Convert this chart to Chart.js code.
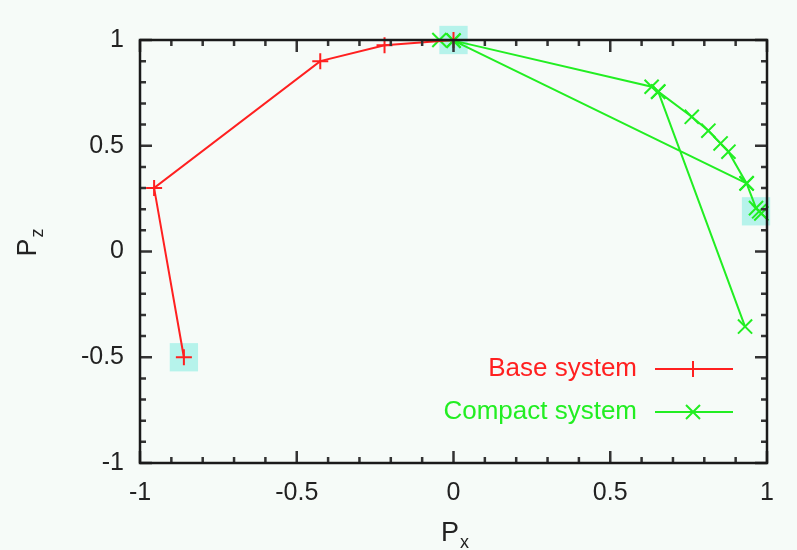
<!DOCTYPE html>
<html>
<head>
<meta charset="utf-8">
<script src="https://cdn.jsdelivr.net/npm/chart.js@4.4.1/dist/chart.umd.min.js"></script>
<style>
  html, body { margin: 0; padding: 0; background: #f6fbf8; }
  canvas { display: block; }
</style>
</head>
<body>
<canvas id="chart" width="797" height="550"></canvas>
<script>
// tick labels
const xTicks = [-1, -0.5, 0, 0.5, 1];
const zTicks = [-1, -0.5, 0, 0.5, 1];
const minorStep = 0.1;

const seriesNames = ['Base system', 'Compact system'];

// Base system (P_x, P_z)
const baseX = [-0.86, -0.955, -0.425, -0.22, 0.0];
const baseZ = [-0.5, 0.30, 0.90, 0.975, 1.0];

// Compact system, null breaks the line between pieces
const compactX = [-0.045, 0.0, 0.632, 0.653, 0.76, 0.813, 0.852, 0.877, 0.935, 0.965, 0.975, 0.982, null, 0.0, 0.935, null, 0.653, 0.93];
const compactZ = [1.0, 0.997, 0.779, 0.756, 0.637, 0.571, 0.511, 0.472, 0.322, 0.205, 0.19, 0.18, null, 0.997, 0.322, null, 0.756, -0.355];

// highlighted points (cyan boxes)
const markX = [-0.86, 0.0, 0.965];
const markZ = [-0.5, 1.0, 0.19];

const RED = '#ff2020';
const GREEN = '#22ee22';
const FONT = '"Liberation Sans", Arial, sans-serif';

function toPoints(xs, ys) {
  return xs.map((x, i) => ({ x: x, y: ys[i] }));
}

// background, frame with inward ticks, tick labels, axis titles, legend
const decorPlugin = {
  id: 'decor',
  beforeDraw(chart) {
    const ctx = chart.ctx;
    ctx.save();
    ctx.fillStyle = '#f6fbf8';
    ctx.fillRect(0, 0, chart.width, chart.height);
    ctx.restore();
  },
  afterDatasetsDraw(chart) {
    const ctx = chart.ctx;
    const a = chart.chartArea;
    const xs = chart.scales.x;
    const ys = chart.scales.y;
    ctx.save();

    // minor + major ticks on all sides
    ctx.strokeStyle = '#333';
    ctx.lineWidth = 2.5;
    ctx.beginPath();
    for (let v = -1; v <= 1.0001; v += minorStep) {
      const major = Math.abs(v * 2 - Math.round(v * 2)) < 1e-6;
      const len = major ? 12 : 6;
      const px = xs.getPixelForValue(v);
      const py = ys.getPixelForValue(v);
      ctx.moveTo(px, a.bottom); ctx.lineTo(px, a.bottom - len);
      ctx.moveTo(px, a.top); ctx.lineTo(px, a.top + len);
      ctx.moveTo(a.left, py); ctx.lineTo(a.left + len, py);
      ctx.moveTo(a.right, py); ctx.lineTo(a.right - len, py);
    }
    ctx.stroke();

    // frame
    ctx.strokeStyle = '#1a1a1a';
    ctx.lineWidth = 2.5;
    ctx.strokeRect(a.left, a.top, a.right - a.left, a.bottom - a.top);

    // tick labels
    ctx.fillStyle = '#222';
    ctx.font = '25px ' + FONT;
    ctx.textBaseline = 'middle';
    ctx.textAlign = 'center';
    xTicks.forEach(v => ctx.fillText(String(v), xs.getPixelForValue(v), a.bottom + 30));
    ctx.textAlign = 'right';
    zTicks.forEach(v => ctx.fillText(String(v), a.left - 16, ys.getPixelForValue(v)));

    // axis titles with subscripts
    function subLabel(main, sub, x, y) {
      ctx.textAlign = 'left';
      ctx.textBaseline = 'alphabetic';
      ctx.font = '27px ' + FONT;
      const w1 = ctx.measureText(main).width;
      ctx.font = '18px ' + FONT;
      const w2 = ctx.measureText(sub).width;
      const start = x - (w1 + w2) / 2;
      ctx.font = '27px ' + FONT;
      ctx.fillText(main, start, y);
      ctx.font = '18px ' + FONT;
      ctx.fillText(sub, start + w1 + 1, y + 7);
    }
    subLabel('P', 'x', (a.left + a.right) / 2 + 1, 541);
    ctx.save();
    ctx.translate(36, 243);
    ctx.rotate(-Math.PI / 2);
    subLabel('P', 'z', 0, 0);
    ctx.restore();

    // legend inside the plot
    const rows = [
      { name: seriesNames[0], color: RED, y: 369, mark: 'plus' },
      { name: seriesNames[1], color: GREEN, y: 412, mark: 'x' }
    ];
    rows.forEach(r => {
      ctx.fillStyle = r.color;
      ctx.font = '26px ' + FONT;
      ctx.textAlign = 'right';
      ctx.textBaseline = 'middle';
      ctx.fillText(r.name, 637, r.y);
      ctx.strokeStyle = r.color;
      ctx.lineWidth = 2;
      ctx.beginPath();
      ctx.moveTo(655, r.y); ctx.lineTo(733, r.y);
      const cx = 693;
      if (r.mark === 'plus') {
        ctx.moveTo(cx, r.y - 8); ctx.lineTo(cx, r.y + 8);
      } else {
        const d = 7;
        ctx.moveTo(cx - d, r.y - d); ctx.lineTo(cx + d, r.y + d);
        ctx.moveTo(cx - d, r.y + d); ctx.lineTo(cx + d, r.y - d);
      }
      ctx.stroke();
    });

    ctx.restore();
  }
};

new Chart(document.getElementById('chart').getContext('2d'), {
  type: 'scatter',
  data: {
    datasets: [
      {
        label: seriesNames[0],
        data: toPoints(baseX, baseZ),
        showLine: true,
        borderColor: RED,
        borderWidth: 2,
        pointStyle: 'cross',
        pointRadius: 8,
        pointBorderWidth: 2,
        pointBorderColor: RED,
        clip: false
      },
      {
        label: seriesNames[1],
        data: toPoints(compactX, compactZ),
        showLine: true,
        spanGaps: false,
        borderColor: GREEN,
        borderWidth: 2,
        pointStyle: 'crossRot',
        pointRadius: 10,
        pointBorderWidth: 2,
        pointBorderColor: GREEN,
        clip: false
      },
      {
        label: 'highlight',
        data: toPoints(markX, markZ),
        showLine: false,
        pointStyle: 'rect',
        pointRadius: 20,
        pointBorderWidth: 0,
        pointBackgroundColor: 'rgba(140, 238, 226, 0.6)',
        clip: false,
        order: 5
      }
    ]
  },
  options: {
    responsive: false,
    animation: false,
    devicePixelRatio: 1,
    layout: { padding: { left: 140, right: 30, top: 40, bottom: 87 } },
    scales: {
      x: { type: 'linear', min: -1, max: 1, display: false },
      y: { type: 'linear', min: -1, max: 1, display: false }
    },
    plugins: {
      legend: { display: false },
      tooltip: { enabled: false }
    }
  },
  plugins: [decorPlugin]
});
</script>
</body>
</html>
